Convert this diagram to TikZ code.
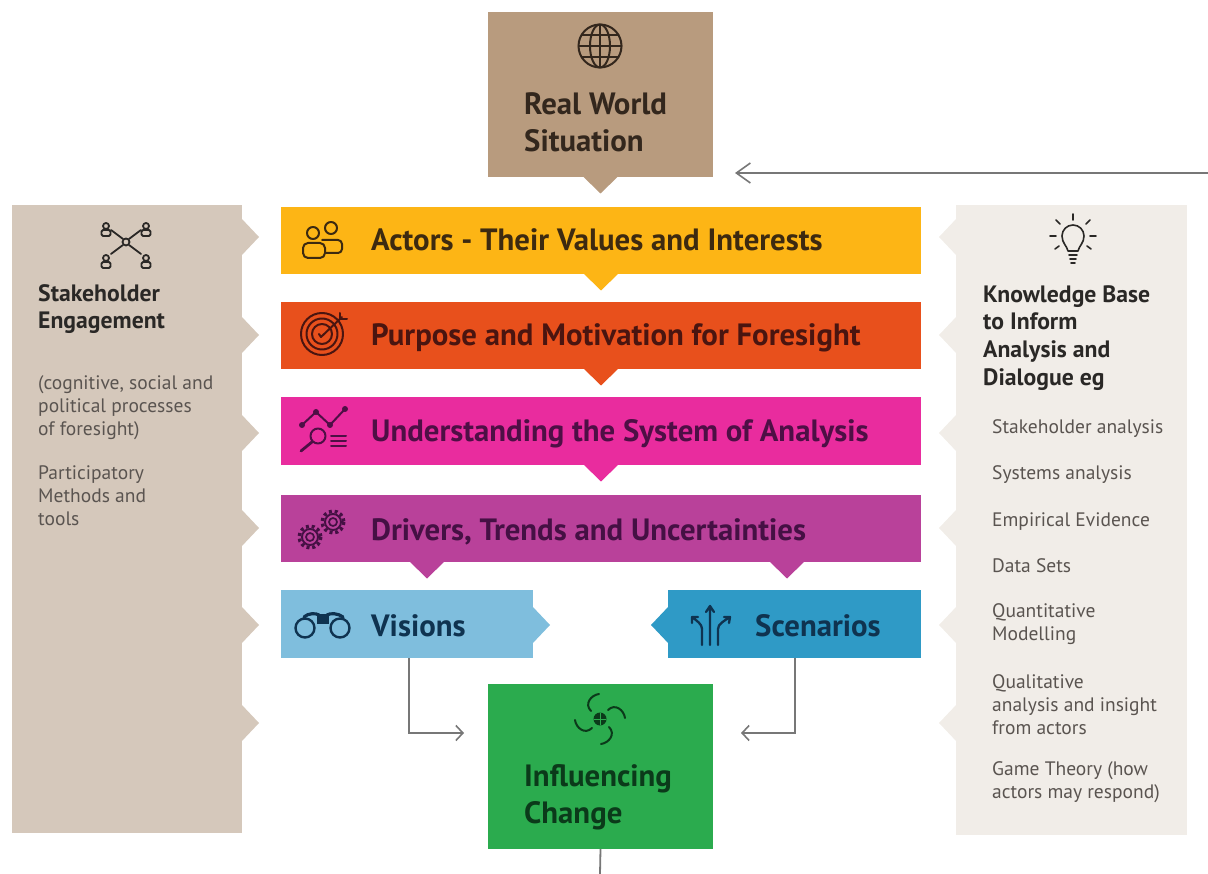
\documentclass[tikz,border=0pt]{standalone}
\usepackage{fontspec}
\setmainfont{PT Sans}
\usetikzlibrary{calc,arrows.meta}
\definecolor{cReal}{HTML}{B89B7E}
\definecolor{cActors}{HTML}{FDB515}
\definecolor{cPurpose}{HTML}{E8501C}
\definecolor{cUnder}{HTML}{E92C9E}
\definecolor{cDrivers}{HTML}{B9419A}
\definecolor{cVisions}{HTML}{7FBEDD}
\definecolor{cScen}{HTML}{2F9AC6}
\definecolor{cInfl}{HTML}{2BAB4E}
\definecolor{cLeft}{HTML}{D5C8BB}
\definecolor{cRight}{HTML}{F1EDE8}
\definecolor{tReal}{HTML}{33271D}
\definecolor{tActors}{HTML}{3D2A10}
\definecolor{tPurpose}{HTML}{4A1510}
\definecolor{tUnder}{HTML}{4E0F45}
\definecolor{tDrivers}{HTML}{451044}
\definecolor{tVisions}{HTML}{0F3350}
\definecolor{tInfl}{HTML}{0B3A1A}
\definecolor{tDark}{HTML}{2A2826}
\definecolor{tSmall}{HTML}{5A5450}
\definecolor{cConn}{HTML}{777777}
\tikzset{
  boxnode/.style={inner sep=0pt,outer sep=0pt,anchor=north west},
  title/.style={inner sep=0pt,anchor=base west,font=\fontsize{30.8}{37}\selectfont\bfseries},
  blocktitle/.style={inner sep=0pt,anchor=north west,align=left,font=\fontsize{30.8}{37}\selectfont\bfseries},
  sidehead/.style={inner sep=0pt,anchor=north west,align=left,text=tDark,font=\fontsize{23.7}{27.7}\selectfont\bfseries},
  sidetext/.style={inner sep=0pt,anchor=north west,align=left,text=tSmall,font=\fontsize{19.5}{23.4}\selectfont},
  conn/.style={draw=cConn,line width=1.6pt,-{Straight Barb[length=7pt,width=15pt,line width=1.6pt]}},
  connbig/.style={draw=cConn,line width=1.6pt,-{Straight Barb[length=14pt,width=20pt,line width=1.6pt]}},
  icon/.style={line width=2pt,fill=none,line cap=round,line join=round}
}
\newcommand\ptrD[2]{\fill[#2] ($(#1)+(-18,-1)$) -- ($(#1)+(18,-1)$) -- ($(#1)+(0,16.5)$) -- cycle;}
\begin{document}
\begin{tikzpicture}[x=1pt,y=-1pt]
\useasboundingbox (0,0) rectangle (1208,874);
% panels
\node[boxnode,fill=cLeft,minimum width=230pt,minimum height=628pt] (leftp) at (12,205) {};
\node[boxnode,fill=cRight,minimum width=231pt,minimum height=630pt] (rightp) at (956,205) {};
\foreach \y in {237,335,433,528,625,723}{
  \fill[cLeft] (241,\y-19) -- (259,\y) -- (241,\y+19) -- cycle;
  \fill[cRight] (957,\y-19) -- (939,\y) -- (957,\y+19) -- cycle;
}
% main boxes
\node[boxnode,fill=cReal,minimum width=225pt,minimum height=165pt] (real) at (488,12) {};
\node[boxnode,fill=cActors,minimum width=640pt,minimum height=67pt] (actors) at (281,207) {};
\node[boxnode,fill=cPurpose,minimum width=640pt,minimum height=67pt] (purpose) at (281,302) {};
\node[boxnode,fill=cUnder,minimum width=640pt,minimum height=68pt] (under) at (281,397) {};
\node[boxnode,fill=cDrivers,minimum width=640pt,minimum height=67pt] (drivers) at (281,495) {};
\node[boxnode,fill=cVisions,minimum width=252pt,minimum height=68pt] (visions) at (281,590) {};
\node[boxnode,fill=cScen,minimum width=253pt,minimum height=68pt] (scen) at (668,590) {};
\node[boxnode,fill=cInfl,minimum width=225pt,minimum height=165pt] (infl) at (488,684) {};
\ptrD{real.south}{cReal}
\ptrD{actors.south}{cActors}
\ptrD{purpose.south}{cPurpose}
\ptrD{under.south}{cUnder}
\coordinate (dl) at (427,562);
\coordinate (dr) at (787,562);
\ptrD{dl}{cDrivers}
\ptrD{dr}{cDrivers}
\fill[cVisions] (532,606) -- (550,625) -- (532,644) -- cycle;
\fill[cScen] (669,606) -- (651,625) -- (669,644) -- cycle;
% connectors
\coordinate (feed) at (1208,173);
\coordinate (vjoin) at (409,733);
\coordinate (sjoin) at (795,733);
\coordinate (bottom) at (600,874);
\draw[connbig,shorten >=22pt] (feed) -- (feed -| real.east);
\draw[conn,shorten >=24pt] (visions.south -| vjoin) -- (vjoin) -- (vjoin -| infl.west);
\draw[conn,shorten >=28pt] (scen.south -| sjoin) -- (sjoin) -- (sjoin -| infl.east);
\draw[cConn,line width=1.8pt] (infl.south) -- (bottom);
% titles
\node[blocktitle,text=tReal] (treal) at (524,92) {Real World\\Situation};
\node[title,text=tActors] (tactors) at (371,251) {Actors - Their Values and Interests};
\node[title,text=tPurpose] (tpurpose) at (371,346) {Purpose and Motivation for Foresight};
\node[title,text=tUnder] (tunder) at (371,442) {Understanding the System of Analysis};
\node[title,text=tDrivers] (tdrivers) at (371,540) {Drivers, Trends and Uncertainties};
\node[title,text=tVisions] (tvisions) at (371,636) {Visions};
\node[title,text=tVisions] (tscen) at (755,636) {Scenarios};
\node[blocktitle,text=tInfl] (tinfl) at (524,764) {Influencing\\Change};
% left panel
\node[sidehead] (lh) at (38,284) {Stakeholder\\Engagement};
\node[sidetext] (l1) at (38,375) {(cognitive, social and\\political processes\\of foresight)};
\node[sidetext] (l2) at (38,465) {Participatory\\Methods and\\tools};
% right panel
\node[sidehead] (rh) at (983,285) {Knowledge Base\\to Inform\\Analysis and\\Dialogue eg};
\node[sidetext] (r1) at (992,419) {Stakeholder analysis};
\node[sidetext] (r2) at (992,465) {Systems analysis};
\node[sidetext] (r3) at (992,512) {Empirical Evidence};
\node[sidetext] (r4) at (992,558) {Data Sets};
\node[sidetext] (r5) at (992,603) {Quantitative\\Modelling};
\node[sidetext] (r6) at (992,674) {Qualitative\\analysis and insight\\from actors};
\node[sidetext] (r7) at (992,761) {Game Theory (how\\actors may respond)};
% icons
% globe
\begin{scope}[shift={(600,46)},icon,draw=tReal]
  \draw (0,0) circle[radius=21.5];
  \draw (0,0) ellipse[x radius=10,y radius=21.5];
  \draw (0,-21.5) -- (0,21.5) (-21.5,0) -- (21.5,0) (-18.5,-11) -- (18.5,-11) (-18.5,11) -- (18.5,11);
\end{scope}
% people
\begin{scope}[icon,draw=tActors]
  \draw (313,233) circle[radius=6];
  \draw (331,228) circle[radius=6];
  \draw[rounded corners=5pt] (303,258) rectangle (325,243);
  \draw[rounded corners=4pt] (322,240) -- (342,240) -- (342,253) -- (325,253);
\end{scope}
% target
\begin{scope}[shift={(322,334)},icon,draw=tPurpose]
  \draw (0,0) circle[radius=21];
  \draw (0,0) circle[radius=15.5];
  \draw (0,0) circle[radius=10];
  \draw (-3,0) -- (-1,3) -- (20,-17);
  \draw (18,-21) -- (18,-15) -- (25,-15);
\end{scope}
% analysis
\begin{scope}[icon,draw=tUnder]
  \draw (302,425) -- (316,412) -- (330,425) -- (345,409);
  \foreach \p in {(302,425),(316,412),(330,425),(345,409)}
    \fill[tUnder] \p circle[radius=3];
  \draw (318,436) circle[radius=7.5];
  \draw[line width=2.8pt] (312,442) -- (301,451);
  \draw (331,436) -- (346,436) (331,441) -- (346,441) (331,446) -- (346,446);
\end{scope}
% gears
\begin{scope}[draw=tDrivers]
  \foreach \c/\r in {(333,522)/10,(310,537)/10}{
    \draw[line width=1.9pt] \c circle[radius=\r-2];
    \draw[line width=1.7pt] \c circle[radius=\r-6];
    \draw[line width=3.5pt,dash pattern=on 3pt off 2.8pt] \c circle[radius=\r+0.8];
  }
\end{scope}
% binoculars
\begin{scope}[icon,draw=tVisions]
  \draw[line width=2.4pt] (305,628) circle[radius=9.5];
  \draw[line width=2.4pt] (340,628) circle[radius=9.5];
  \draw[line width=3.2pt] (304,617) .. controls (308,613) and (316,613) .. (319,615) (327,615) .. controls (330,613) and (338,613) .. (343,617);
  \fill[tVisions] (317,614) rectangle (329,624);
\end{scope}
% scenario arrows
\begin{scope}[icon,draw=tVisions,line width=2.3pt]
  \draw (710,645) -- (710,607) (706,612) -- (710,606) -- (714,612);
  \draw (702,645) -- (702,629) .. controls (702,624) and (697,621) .. (692,617) (692,623) -- (692,617) -- (698,617);
  \draw (718,645) -- (718,629) .. controls (718,624) and (724,621) .. (730,617) (724,617) -- (730,617) -- (729,623);
\end{scope}
% swirl
\begin{scope}[shift={(600,719)},icon,draw=tInfl]
  \fill[tInfl] (0,0) circle[radius=6.5];
  \draw[cInfl,line width=0.7pt] (-6,0) -- (6,0) (0,-6) -- (0,6);
  \foreach \a in {0,90,180,270}{
    \draw[rotate=\a] (-1,-25) .. controls (-9,-24) and (-16,-15) .. (-9,-8);
  }
\end{scope}
% stakeholders
\begin{scope}[icon,draw=tDark,line width=1.8pt]
  \draw (126,242) circle[radius=3.5];
  \foreach \c in {(106,226),(146,226),(106,258),(146,258)}{
    \draw \c circle[radius=3];
    \draw[shift=\c,rounded corners=1.5pt] (-4.5,10) rectangle (4.5,4);
  }
  \draw (123,239) -- (111,230) (129,239) -- (141,230) (123,245) -- (111,254) (129,245) -- (141,254);
\end{scope}
% bulb
\begin{scope}[shift={(1073,237)},icon,draw=tDark,line width=1.6pt]
  \draw (-5,14) .. controls (-6,9) and (-11,6) .. (-11,-1) arc[start angle=180,end angle=360,radius=11] .. controls (11,6) and (6,9) .. (5,14) -- cycle;
  \draw (-4,18) -- (4,18) (-3,22) -- (3,22) (-2,26) -- (2,26);
  \draw (0,-17) -- (0,-23) (-13,-13) -- (-17,-17) (13,-13) -- (17,-17) (-17,-1) -- (-23,-1) (17,-1) -- (23,-1) (-14,9) -- (-18,12) (14,9) -- (18,12);
\end{scope}
\end{tikzpicture}
\end{document}
